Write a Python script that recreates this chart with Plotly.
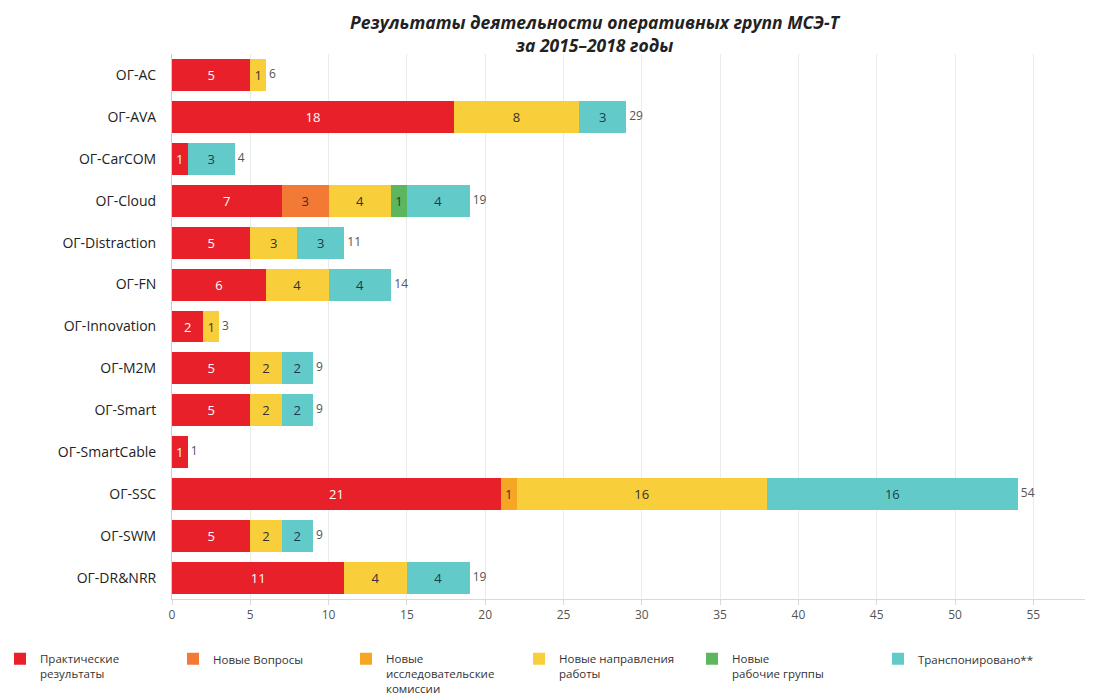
import plotly.graph_objects as go

categories = ["ОГ-AC", "ОГ-AVA", "ОГ-CarCOM", "ОГ-Cloud", "ОГ-Distraction", "ОГ-FN",
              "ОГ-Innovation", "ОГ-M2M", "ОГ-Smart", "ОГ-SmartCable", "ОГ-SSC",
              "ОГ-SWM", "ОГ-DR&NRR"]

practical = [5, 18, 1, 7, 5, 6, 2, 5, 5, 1, 21, 5, 11]
new_questions = [None, None, None, 3, None, None, None, None, None, None, None, None, None]
new_study_groups = [None, None, None, None, None, None, None, None, None, None, 1, None, None]
new_directions = [1, 8, None, 4, 3, 4, 1, 2, 2, None, 16, 2, 4]
new_working_groups = [None, None, None, 1, None, None, None, None, None, None, None, None, None]
transposed = [None, 3, 3, 4, 3, 4, None, 2, 2, None, 16, 2, 4]
totals = [6, 29, 4, 19, 11, 14, 3, 9, 9, 1, 54, 9, 19]

series = [
    ("Практические<br>результаты", practical, "#E8202A", "white", "legend"),
    ("Новые Вопросы", new_questions, "#F37A35", "#333333", "legend"),
    ("Новые<br>исследовательские<br>комиссии", new_study_groups, "#F5A623", "#333333", "legend"),
    ("Новые направления<br>работы", new_directions, "#F9CE3B", "#333333", "legend"),
    ("Новые<br>рабочие группы", new_working_groups, "#5DB55E", "#333333", "legend"),
    ("Транспонировано**", transposed, "#62CBC9", "#1f3a4a", "legend2"),
]

fig = go.Figure()
for name, vals, color, tcolor, lg in series:
    fig.add_trace(go.Bar(
        y=categories, x=vals, name=name, orientation="h", legend=lg,
        marker=dict(color=color, line=dict(width=0)),
        text=[("" if v is None else str(v)) for v in vals],
        textposition="inside", insidetextanchor="middle", textangle=0,
        constraintext="none",
        textfont=dict(color=tcolor, size=13, family="Open Sans"),
        hoverinfo="skip",
    ))

fig.add_trace(go.Scatter(
    y=categories, x=totals, mode="text", text=[" " + str(t) for t in totals],
    textposition="middle right", textfont=dict(color="#555555", size=12, family="Open Sans"),
    showlegend=False, hoverinfo="skip", cliponaxis=False,
))

legend_common = dict(
    orientation="h", xref="container", yref="paper",
    y=-0.084, xanchor="left", yanchor="top",
    entrywidth=128, entrywidthmode="pixels",
    valign="top", traceorder="normal",
    font=dict(size=11.5, color="#333333"),
)

fig.update_layout(
    barmode="stack",
    bargap=0.24,
    width=1101, height=695,
    margin=dict(l=172, r=16, t=54, b=96, autoexpand=False),
    paper_bgcolor="white", plot_bgcolor="white",
    font=dict(family="Open Sans", color="#333333"),
    title=dict(
        text="<b><i>Результаты деятельности оперативных групп МСЭ-Т<br>за 2015–2018 годы</i></b>",
        x=0.54, xanchor="center", y=0.958, yanchor="top",
        font=dict(size=17.5, color="#222222", family="Open Sans"),
    ),
    xaxis=dict(
        range=[0, 58.3], tickvals=list(range(0, 60, 5)),
        showgrid=True, gridcolor="#ebebeb", gridwidth=1,
        zeroline=False, showline=True, linecolor="#d9d9d9",
        ticks="outside", ticklen=5, tickcolor="#d9d9d9",
        tickfont=dict(size=12, color="#555555"),
    ),
    yaxis=dict(
        range=[12.5, -0.5], autorange=False, showline=True, linecolor="#cccccc",
        ticks="", ticklabelstandoff=12,
        tickfont=dict(size=14, color="#222222"),
    ),
    legend=dict(x=0.0, **legend_common),
    legend2=dict(x=878 / 1101, **legend_common),
)

fig.write_html("out.html", config={"displayModeBar": False},
               post_script="document.body.style.margin='0';")
